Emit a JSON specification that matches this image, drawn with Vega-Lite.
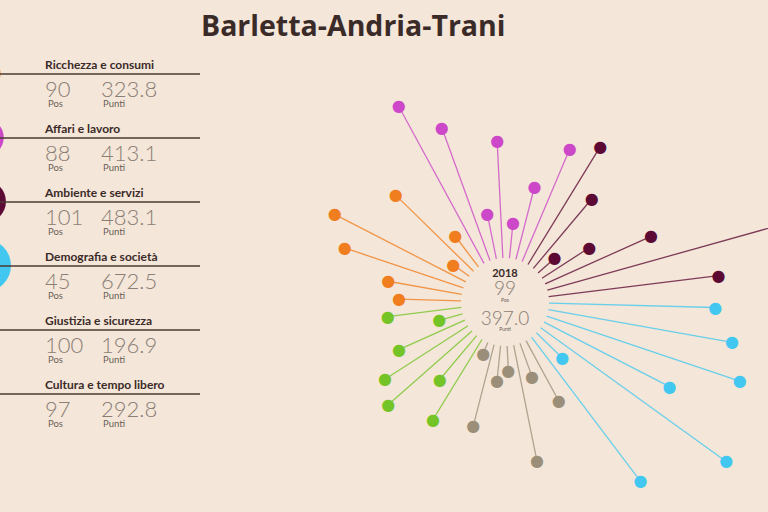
{
  "$schema": "https://vega.github.io/schema/vega-lite/v6.json",
  "width": 526,
  "height": 420,
  "autosize": {"type": "none"},
  "padding": {"left": 242, "top": 92, "right": 0, "bottom": 0},
  "background": "#f4e6d8",
  "title": {"text": "Barletta-Andria-Trani", "anchor": "start", "frame": "group", "dx": -41, "offset": 17, "fontSize": 28.5, "font": "Open Sans", "fontWeight": "bold", "color": "#3b2b28"},
  "config": {"view": {"stroke": null}},
  "datasets": {
    "spokes": [
      {"area": "Affari e lavoro", "idx": 0, "valore": 595},
      {"area": "Affari e lavoro", "idx": 1, "valore": 471},
      {"area": "Affari e lavoro", "idx": 2, "valore": 153},
      {"area": "Affari e lavoro", "idx": 3, "valore": 391},
      {"area": "Affari e lavoro", "idx": 4, "valore": 118},
      {"area": "Affari e lavoro", "idx": 5, "valore": 249},
      {"area": "Affari e lavoro", "idx": 6, "valore": 407},
      {"area": "Ambiente e servizi", "idx": 7, "valore": 461},
      {"area": "Ambiente e servizi", "idx": 8, "valore": 303},
      {"area": "Ambiente e servizi", "idx": 9, "valore": 73},
      {"area": "Ambiente e servizi", "idx": 10, "valore": 187},
      {"area": "Ambiente e servizi", "idx": 11, "valore": 387},
      {"area": "Ambiente e servizi", "idx": 12, "valore": 887},
      {"area": "Ambiente e servizi", "idx": 13, "valore": 570},
      {"area": "Demografia e società", "idx": 14, "valore": 554},
      {"area": "Demografia e società", "idx": 15, "valore": 622},
      {"area": "Demografia e società", "idx": 16, "valore": 679},
      {"area": "Demografia e società", "idx": 17, "valore": 470},
      {"area": "Demografia e società", "idx": 18, "valore": 762},
      {"area": "Demografia e società", "idx": 19, "valore": 120},
      {"area": "Demografia e società", "idx": 20, "valore": 602},
      {"area": "Cultura e tempo libero", "idx": 21, "valore": 228},
      {"area": "Cultura e tempo libero", "idx": 22, "valore": 118},
      {"area": "Cultura e tempo libero", "idx": 23, "valore": 395},
      {"area": "Cultura e tempo libero", "idx": 24, "valore": 83},
      {"area": "Cultura e tempo libero", "idx": 25, "valore": 117},
      {"area": "Cultura e tempo libero", "idx": 26, "valore": 281},
      {"area": "Cultura e tempo libero", "idx": 27, "valore": 40},
      {"area": "Giustizia e sicurezza", "idx": 28, "valore": 313},
      {"area": "Giustizia e sicurezza", "idx": 29, "valore": 191},
      {"area": "Giustizia e sicurezza", "idx": 30, "valore": 372},
      {"area": "Giustizia e sicurezza", "idx": 31, "valore": 329},
      {"area": "Giustizia e sicurezza", "idx": 32, "valore": 241},
      {"area": "Giustizia e sicurezza", "idx": 33, "valore": 81},
      {"area": "Giustizia e sicurezza", "idx": 34, "valore": 247},
      {"area": "Ricchezza e consumi", "idx": 35, "valore": 207},
      {"area": "Ricchezza e consumi", "idx": 36, "valore": 249},
      {"area": "Ricchezza e consumi", "idx": 37, "valore": 417},
      {"area": "Ricchezza e consumi", "idx": 38, "valore": 492},
      {"area": "Ricchezza e consumi", "idx": 39, "valore": 66},
      {"area": "Ricchezza e consumi", "idx": 40, "valore": 363},
      {"area": "Ricchezza e consumi", "idx": 41, "valore": 128}
    ],
    "aree": [
      {"area": "Ricchezza e consumi", "riga": 0, "pos": 90, "punti": 323.8},
      {"area": "Affari e lavoro", "riga": 1, "pos": 88, "punti": 413.1},
      {"area": "Ambiente e servizi", "riga": 2, "pos": 101, "punti": 483.1},
      {"area": "Demografia e società", "riga": 3, "pos": 45, "punti": 672.5},
      {"area": "Giustizia e sicurezza", "riga": 4, "pos": 100, "punti": 196.9},
      {"area": "Cultura e tempo libero", "riga": 5, "pos": 97, "punti": 292.8}
    ],
    "totale": [{"anno": "2018", "pos": 99, "punti": 397.0}]
  },
  "layer": [
    {
      "data": {"name": "spokes"},
      "mark": {"type": "arc", "filled": false, "strokeWidth": 1.3, "opacity": 0.78},
      "encoding": {
        "theta": {"field": "idx", "type": "quantitative", "stack": null, "scale": {"domain": [0, 42], "range": [-0.49742, 5.78577]}},
        "theta2": {"field": "idx"},
        "radius": {"field": "valore", "type": "quantitative", "scale": {"type": "linear", "domain": [0, 1000], "range": [44, 344], "zero": false}},
        "radius2": {"datum": 0},
        "color": {"field": "area", "type": "nominal", "legend": null, "scale": {"domain": ["Ricchezza e consumi", "Affari e lavoro", "Ambiente e servizi", "Demografia e società", "Giustizia e sicurezza", "Cultura e tempo libero"], "range": ["#f07d1e", "#cc48c8", "#5c0a34", "#42c8f0", "#74c427", "#9c8f7a"]}}
      }
    },
    {
      "data": {"name": "spokes"},
      "mark": {"type": "text", "text": "●", "font": "DejaVu Sans", "fontSize": 16, "align": "center", "baseline": "middle"},
      "encoding": {
        "theta": {"field": "idx", "type": "quantitative", "stack": null},
        "radius": {"field": "valore", "type": "quantitative"},
        "color": {"field": "area", "type": "nominal", "legend": null}
      }
    },
    {
      "data": {"name": "aree"},
      "mark": {"type": "point", "filled": true, "opacity": 1, "shape": "circle", "yOffset": 5},
      "encoding": {
        "x": {"datum": -7.5, "type": "quantitative", "scale": {"domain": [0, 100], "range": [-242, -42]}, "axis": null},
        "y": {"field": "riga", "type": "quantitative", "scale": {"domain": [0, 5], "range": [-23.5, 296.5]}, "axis": null},
        "size": {"field": "punti", "type": "quantitative", "legend": null, "scale": {"domain": [131.8, 700], "range": [0, 2841]}},
        "color": {"field": "area", "type": "nominal", "legend": null}
      }
    },
    {
      "data": {"name": "aree"},
      "mark": {"type": "rule", "color": "#4b3a33", "strokeWidth": 1.5, "yOffset": 5.5},
      "encoding": {
        "x": {"datum": 0, "type": "quantitative"},
        "x2": {"datum": 100},
        "y": {"field": "riga", "type": "quantitative"}
      }
    },
    {
      "data": {"name": "aree"},
      "mark": {"type": "text", "align": "left", "baseline": "alphabetic", "font": "Lato", "fontWeight": "bold", "fontSize": 12, "color": "#3b2b28"},
      "encoding": {
        "x": {"datum": 22.5, "type": "quantitative"},
        "y": {"field": "riga", "type": "quantitative"},
        "text": {"field": "area"}
      }
    },
    {
      "data": {"name": "aree"},
      "mark": {"type": "text", "align": "left", "baseline": "alphabetic", "font": "Lato", "fontWeight": 300, "fontSize": 22, "dy": 28, "color": "#8a7e77"},
      "encoding": {
        "x": {"datum": 22.5, "type": "quantitative"},
        "y": {"field": "riga", "type": "quantitative"},
        "text": {"field": "pos"}
      }
    },
    {
      "data": {"name": "aree"},
      "mark": {"type": "text", "align": "left", "baseline": "alphabetic", "font": "Lato", "fontWeight": 300, "fontSize": 22, "dy": 28, "color": "#8a7e77"},
      "encoding": {
        "x": {"datum": 50.5, "type": "quantitative"},
        "y": {"field": "riga", "type": "quantitative"},
        "text": {"field": "punti", "format": ".1f"}
      }
    },
    {
      "data": {"name": "aree"},
      "mark": {"type": "text", "text": "Pos", "align": "left", "baseline": "alphabetic", "font": "Lato", "fontSize": 9.5, "dy": 38.5, "color": "#6b5f59"},
      "encoding": {
        "x": {"datum": 24, "type": "quantitative"},
        "y": {"field": "riga", "type": "quantitative"}
      }
    },
    {
      "data": {"name": "aree"},
      "mark": {"type": "text", "text": "Punti", "align": "left", "baseline": "alphabetic", "font": "Lato", "fontSize": 9.5, "dy": 38.5, "color": "#6b5f59"},
      "encoding": {
        "x": {"datum": 51.5, "type": "quantitative"},
        "y": {"field": "riga", "type": "quantitative"}
      }
    },
    {
      "data": {"name": "totale"},
      "mark": {"type": "text", "align": "center", "baseline": "alphabetic", "font": "Lato", "fontWeight": "bold", "fontSize": 11, "dy": -25, "color": "#3b2b28"},
      "encoding": {"text": {"field": "anno"}}
    },
    {
      "data": {"name": "totale"},
      "mark": {"type": "text", "align": "center", "baseline": "alphabetic", "font": "Lato", "fontWeight": 300, "fontSize": 19, "dy": -7, "color": "#8a7e77"},
      "encoding": {"text": {"field": "pos"}}
    },
    {
      "data": {"name": "totale"},
      "mark": {"type": "text", "text": "Pos", "align": "center", "baseline": "alphabetic", "font": "Lato", "fontSize": 5, "dy": 0, "color": "#6b5f59"},
      "encoding": {}
    },
    {
      "data": {"name": "totale"},
      "mark": {"type": "text", "align": "center", "baseline": "alphabetic", "font": "Lato", "fontWeight": 300, "fontSize": 19, "dy": 23, "color": "#8a7e77"},
      "encoding": {"text": {"field": "punti", "format": ".1f"}}
    },
    {
      "data": {"name": "totale"},
      "mark": {"type": "text", "text": "Punti", "align": "center", "baseline": "alphabetic", "font": "Lato", "fontSize": 5, "dy": 28.5, "color": "#6b5f59"},
      "encoding": {}
    }
  ]
}
